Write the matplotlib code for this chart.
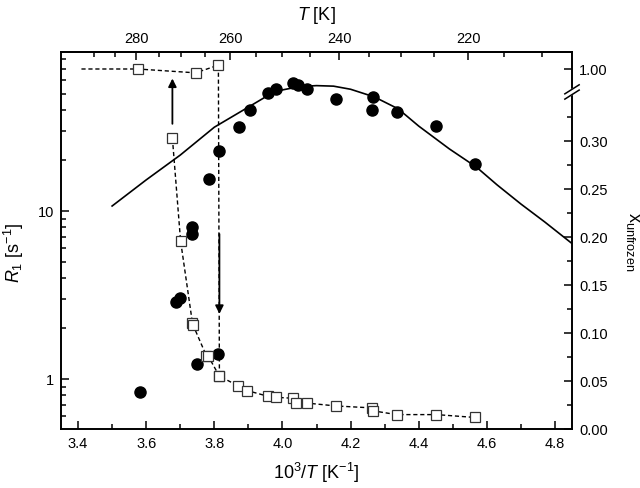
import numpy as np
import matplotlib
matplotlib.use("Agg")
import matplotlib.pyplot as plt
from matplotlib.ticker import FixedLocator, FormatStrFormatter, MultipleLocator, NullFormatter

plt.rcParams['font.family'] = ['Liberation Sans', 'DejaVu Sans']
plt.rcParams['mathtext.fontset'] = 'custom'
plt.rcParams['mathtext.rm'] = 'Liberation Sans'
plt.rcParams['mathtext.it'] = 'Liberation Sans:italic'

# R1 relaxation rates (filled circles)
r1_x = [3.581, 3.748, 3.812, 3.698, 3.689, 3.736, 3.736, 3.783, 3.815, 3.873, 3.906,
        3.958, 3.982, 4.030, 4.045, 4.072, 4.157, 4.265, 4.262, 4.335, 4.452, 4.566]
r1_y = [0.84, 1.23, 1.41, 3.03, 2.87, 8.0, 7.3, 15.5, 22.8, 31.6, 39.9,
        50.4, 53.2, 57.5, 56.5, 53.2, 46.4, 47.7, 39.9, 38.8, 32.1, 19.1]

# model fit (solid line)
fit_x = [3.50, 3.60, 3.70, 3.80, 3.90, 3.96, 4.00, 4.05, 4.10, 4.15, 4.20,
         4.27, 4.34, 4.40, 4.49, 4.57, 4.63, 4.70, 4.77, 4.85]
fit_y = [10.7, 15.3, 21.5, 31.5, 41.5, 49.0, 52.5, 55.0, 55.7, 55.3, 53.0,
         47.7, 40.5, 32.0, 23.4, 18.2, 14.3, 11.0, 8.6, 6.4]

# unfrozen fraction, branch through the top (first point has no marker)
xa = [3.41, 3.575, 3.745, 3.812, 3.815, 3.870, 3.897, 3.958, 3.982, 4.031, 4.040,
      4.072, 4.157, 4.262, 4.265, 4.335, 4.452, 4.566]
fa = [1.00, 1.00, 0.996, 1.004, 0.055, 0.045, 0.040, 0.034, 0.033, 0.032, 0.027,
      0.027, 0.024, 0.022, 0.019, 0.015, 0.015, 0.012]

# unfrozen fraction, left branch
xb = [3.677, 3.701, 3.736, 3.738, 3.777, 3.782, 3.815]
fb = [0.303, 0.196, 0.110, 0.108, 0.076, 0.076, 0.055]

t_major = [280, 260, 240, 220]
t_minor = [290, 285, 275, 270, 265, 255, 250, 245, 235, 230, 225, 215, 210]
f_major = [0.0, 0.05, 0.10, 0.15, 0.20, 0.25, 0.30, 1.00]
f_minor = [0.025, 0.075, 0.125, 0.175, 0.225, 0.275, 0.325]


def fwd(v):
    v = np.asarray(v, dtype=float)
    return np.where(v <= 0.34, v,
                    np.where(v < 0.97, 0.34 + (v - 0.34) * (0.005 / 0.63), v - 0.625))


def inv(u):
    u = np.asarray(u, dtype=float)
    return np.where(u <= 0.34, u,
                    np.where(u < 0.345, 0.34 + (u - 0.34) * (0.63 / 0.005), u + 0.625))


fig = plt.figure(figsize=(6.4, 4.89), dpi=100)
ax = fig.add_axes([61 / 640, 1 - 430 / 489, 511 / 640, 377 / 489])

ax.plot(fit_x, fit_y, color='black', lw=1.2, zorder=2)
ax.plot(r1_x, r1_y, 'o', color='black', ms=8, zorder=3)

ax.set_yscale('log')
ax.set_xlim(3.35, 4.85)
ax.set_ylim(0.504, 88.3)
ax.xaxis.set_major_locator(MultipleLocator(0.2))
ax.xaxis.set_minor_locator(MultipleLocator(0.1))
ax.xaxis.set_major_formatter(FormatStrFormatter('%.1f'))
ax.yaxis.set_major_locator(FixedLocator([1, 10]))
ax.yaxis.set_major_formatter(FormatStrFormatter('%g'))
ax.yaxis.set_minor_locator(matplotlib.ticker.LogLocator(subs=np.arange(2, 10)))
ax.yaxis.set_minor_formatter(NullFormatter())
ax.tick_params(which='both', direction='in', top=False, right=False, labelsize=10.5, width=1.1, pad=5)
ax.tick_params(which='major', length=6)
ax.tick_params(which='minor', length=3.5)
for s in ax.spines.values():
    s.set_linewidth(1.2)

ax.set_xlabel(r'10$^3$/$T$ [K$^{-1}$]', fontsize=13)
ax.xaxis.set_label_coords(0.5, -0.082)
ax.set_ylabel(r'$R_1$ [s$^{-1}$]', fontsize=13)
ax.yaxis.set_label_coords(-0.068, 0.47)

top = ax.secondary_xaxis('top', functions=(lambda x: 1000 / x, lambda t: 1000 / t))
top.xaxis.set_major_locator(FixedLocator(t_major))
top.xaxis.set_minor_locator(FixedLocator(t_minor))
top.tick_params(which='both', direction='in', labelsize=10.5, width=1.1, pad=5)
top.tick_params(which='major', length=6)
top.tick_params(which='minor', length=3.5)
top.set_xlabel(r'$T$ [K]', fontsize=13, labelpad=9)
top.spines['top'].set_linewidth(1.2)

ax2 = ax.twinx()
ax2.set_yscale('function', functions=(fwd, inv))
ax2.plot(xb, fb, ls=(0, (3, 2)), color='black', lw=1.0, marker='s', ms=7.5,
         mfc='white', mec='#333333', mew=0.9)
ax2.plot(xa, fa, ls=(0, (3, 2)), color='black', lw=1.0, marker='s', ms=7.5,
         mfc='white', mec='#333333', mew=0.9, markevery=list(range(1, len(xa))))
ax2.annotate('', xy=(xb[0], 0.993), xytext=(xb[0], 0.315),
             arrowprops=dict(arrowstyle='-|>', color='black', lw=1.3, mutation_scale=12))
ax2.annotate('', xy=(xa[4], 0.117), xytext=(xa[4], 0.206),
             arrowprops=dict(arrowstyle='-|>', color='black', lw=1.3, mutation_scale=12))
ax2.set_ylim(0, 1.0177)
ax2.set_xlim(3.35, 4.85)
ax2.yaxis.set_major_locator(FixedLocator(f_major))
ax2.yaxis.set_minor_locator(FixedLocator(f_minor))
ax2.yaxis.set_major_formatter(FormatStrFormatter('%.2f'))
ax2.yaxis.set_minor_formatter(NullFormatter())
ax2.tick_params(which='both', direction='in', labelsize=10.5, width=1.1, pad=5)
ax2.tick_params(which='major', length=6)
ax2.tick_params(which='minor', length=3.5)
for s in ax2.spines.values():
    s.set_linewidth(1.2)
ax2.set_ylabel(r'x$_{\mathrm{unfrozen}}$', fontsize=13, rotation=270)
ax2.yaxis.set_label_coords(1.135, 0.5)

# axis break marks on the right spine
yb = 0.894
dx, dy, gap = 0.014, 0.012, 0.007
ax2.fill([1 - dx, 1 + dx, 1 + dx, 1 - dx],
         [yb - dy - gap, yb + dy - gap, yb + dy + gap, yb - dy + gap],
         color='white', transform=ax2.transAxes, clip_on=False, zorder=10)
for off in (-gap, gap):
    ax2.plot([1 - dx, 1 + dx], [yb - dy + off, yb + dy + off], color='black', lw=1.1,
             transform=ax2.transAxes, clip_on=False, zorder=11)

fig.savefig('out.png', dpi=100)
